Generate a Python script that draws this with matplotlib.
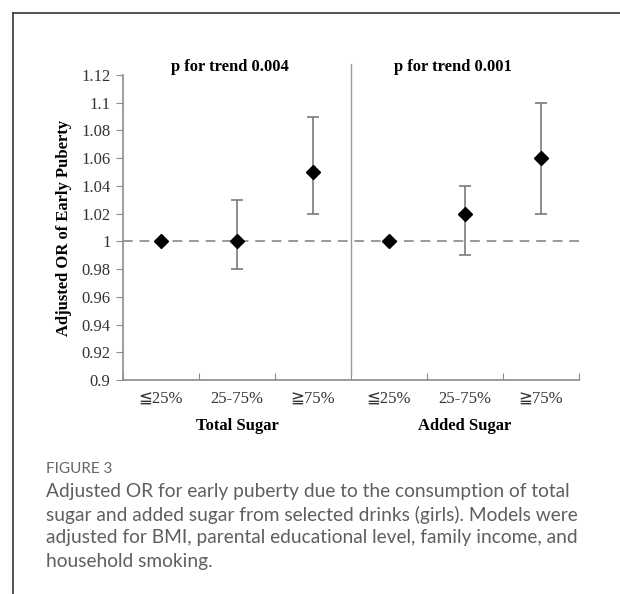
import matplotlib.pyplot as plt
from matplotlib.lines import Line2D
import numpy as np

# Data
categories = ['≦25%', '25-75%', '≧75%']
groups = ['Total Sugar', 'Added Sugar']
trend_labels = ['p for trend 0.004', 'p for trend 0.001']

total_or = [1.00, 1.00, 1.05]
total_low = [1.00, 0.98, 1.02]
total_high = [1.00, 1.03, 1.09]

added_or = [1.00, 1.02, 1.06]
added_low = [1.00, 0.99, 1.02]
added_high = [1.00, 1.04, 1.10]

y_ticks = [0.9, 0.92, 0.94, 0.96, 0.98, 1.0, 1.02, 1.04, 1.06, 1.08, 1.1, 1.12]

caption_title = 'FIGURE 3'
caption_lines = [
    'Adjusted OR for early puberty due to the consumption of total',
    'sugar and added sugar from selected drinks (girls). Models were',
    'adjusted for BMI, parental educational level, family income, and',
    'household smoking.',
]

serif = ['Liberation Serif', 'DejaVu Sans']
axis_grey = '#8c8c8c'

fig = plt.figure(figsize=(6.2, 5.94), dpi=100)
ax = fig.add_axes([123 / 620, 1 - 380 / 594, (579 - 123) / 620, (380 - 75) / 594])

# Points and confidence intervals for both panels
or_values = np.array(total_or + added_or)
low = np.array(total_low + added_low)
high = np.array(total_high + added_high)
x = np.arange(len(or_values)) + 0.5

ax.axhline(1.0, color='#999999', linestyle=(0, (5, 3.5)), linewidth=1.4, zorder=1)
ax.errorbar(x, or_values, yerr=[or_values - low, high - or_values], fmt='D',
            color='black', markersize=7.5, ecolor='#7a7a7a', elinewidth=1.2,
            capsize=4.5, capthick=1.2, zorder=3)

# Divider between the two panels
ax.axvline(3, ymin=0.016, ymax=1.036, color='#999999', linewidth=1, clip_on=False)

ax.set_xlim(0, 6)
ax.set_ylim(0.9, 1.12)
ax.set_yticks(y_ticks)
ax.set_yticklabels([f'{v:g}' for v in y_ticks], family=serif, fontsize=12, color='#333333')
ax.set_xticks(range(7))
ax.set_xticklabels([])
ax.tick_params(axis='y', direction='out', length=5, color=axis_grey, pad=4)
ax.tick_params(axis='x', direction='in', length=5, color=axis_grey)

for side in ['top', 'right']:
    ax.spines[side].set_visible(False)
for side in ['left', 'bottom']:
    ax.spines[side].set_color(axis_grey)
    ax.spines[side].set_linewidth(1.2)

# Category and group labels under the axis
for i, pos in enumerate(x):
    ax.text(pos, -0.062, categories[i % 3], transform=ax.get_xaxis_transform(),
            ha='center', va='center', family=serif, fontsize=12, color='#333333')
for i, g in enumerate(groups):
    ax.text(1.5 + 3 * i, -0.151, g, transform=ax.get_xaxis_transform(),
            ha='center', va='center', family=serif, fontsize=12, fontweight='bold')
for i, t in enumerate(trend_labels):
    ax.text(1.41 + 2.93 * i, 1.026, t, transform=ax.get_xaxis_transform(),
            ha='center', va='center', family=serif, fontsize=12, fontweight='bold')

ax.set_ylabel('Adjusted OR of Early Puberty', family=serif, fontsize=12, fontweight='bold')
ax.yaxis.set_label_coords(-0.112, 0.5)

# Page frame and caption
fig.add_artist(Line2D([13 / 620, 13 / 620], [0, 1 - 13 / 594], color='#444444', linewidth=1.3))
fig.add_artist(Line2D([13 / 620, 1], [1 - 13 / 594, 1 - 13 / 594], color='#444444', linewidth=1.3))

fig.text(46 / 620, 1 - 469 / 594, caption_title, family='Lato', fontsize=11,
         color='#666666', va='center')
for i, line in enumerate(caption_lines):
    fig.text(46 / 620, 1 - (492 + 23 * i) / 594, line, family='Lato', fontsize=13.8,
             color='#5f5f5f', va='center')

fig.savefig('out.png', dpi=100)
